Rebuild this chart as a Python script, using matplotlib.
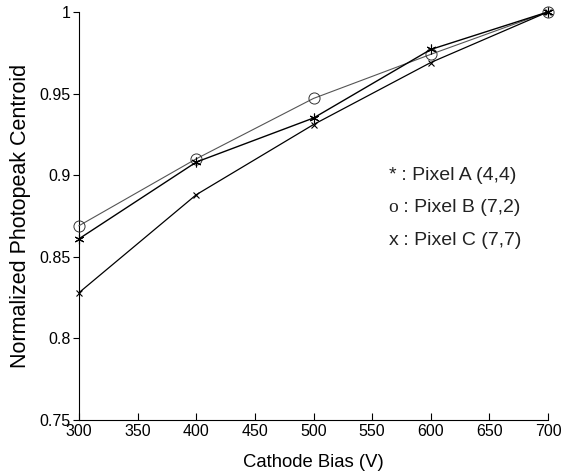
import matplotlib
matplotlib.use("Agg")
import matplotlib.pyplot as plt

bias = [300, 400, 500, 600, 700]
pixel_a = [0.861, 0.908, 0.935, 0.977, 1.0]
pixel_b = [0.869, 0.910, 0.947, 0.974, 1.0]
pixel_c = [0.828, 0.888, 0.931, 0.969, 1.0]
legend_marks = ["*", "o", "x"]
legend_lines = [" : Pixel A (4,4)", " : Pixel B (7,2)", " : Pixel C (7,7)"]

plt.rcParams['font.family'] = ['Liberation Sans', 'DejaVu Sans']
fig = plt.figure(figsize=(5.82, 4.74), dpi=100)
ax = fig.add_axes([0.1357, 0.1139, 0.806, 0.861])

ax.plot(bias, pixel_b, color='#555555', lw=0.8, marker='o', ms=8, mfc='none',
        mec='#333333', mew=0.7, clip_on=False, zorder=3)
ax.plot(bias, pixel_a, color='black', lw=1.0, marker=(6, 2, 0), ms=7,
        mec='black', mew=0.8, clip_on=False, zorder=4)
ax.plot(bias, pixel_c, color='black', lw=0.9, marker='x', ms=5, mec='black',
        mew=0.8, clip_on=False, zorder=4)

ax.set_xlim(300, 700)
ax.set_ylim(0.75, 1.0)
ax.set_xticks(range(300, 701, 50))
ax.set_yticks([0.75, 0.8, 0.85, 0.9, 0.95, 1.0])
ax.set_yticklabels(['0.75', '0.8', '0.85', '0.9', '0.95', '1'])
ax.spines['top'].set_visible(False)
ax.spines['right'].set_visible(False)
ax.tick_params(axis='x', direction='in', length=5, labelsize=11.5, pad=3)
ax.tick_params(axis='y', direction='out', length=4, labelsize=11.5, pad=2)
ax.set_xlabel('Cathode Bias (V)', fontsize=13.3, labelpad=11)
ax.set_ylabel('Normalized Photopeak Centroid', fontsize=15.5, labelpad=6)

for i, (m, t) in enumerate(zip(legend_marks, legend_lines)):
    y = 0.600 - i * 0.080
    fam = ['Liberation Serif'] if m == 'o' else ['Liberation Sans']
    mt = ax.text(0.660, y, m, transform=ax.transAxes, fontsize=14,
                 va='center', ha='left', color='#222222', family=fam)
    ax.annotate(t, xy=(1, 0.5), xycoords=mt, va='center', ha='left',
                fontsize=14, color='#222222')

fig.savefig('out.png', dpi=100)
